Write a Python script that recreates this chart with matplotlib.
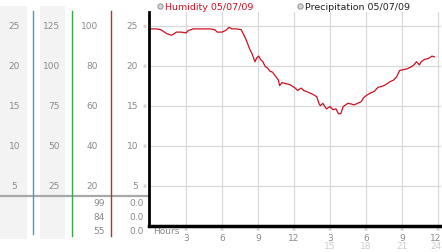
import matplotlib
matplotlib.use("Agg")
import matplotlib.pyplot as plt

# humidity trace (hour, value)
hours = [0.0, 0.5, 0.9, 1.1, 1.4, 1.8, 2.2, 2.6, 3.0, 3.2, 3.6, 4.0, 4.5, 5.0, 5.4,
         5.6, 6.0, 6.3, 6.6, 6.8, 7.2, 7.6, 7.9, 8.1, 8.3, 8.5, 8.75, 8.9, 9.05, 9.2,
         9.4, 9.6, 9.8, 10.0, 10.2, 10.4, 10.55, 10.7, 10.8, 11.0, 11.2, 11.5, 11.7,
         11.9, 12.1, 12.3, 12.6, 12.8, 13.0, 13.3, 13.6, 13.9, 14.1, 14.2, 14.4, 14.7,
         15.0, 15.25, 15.5, 15.7, 15.9, 16.1, 16.3, 16.5, 16.8, 17.0, 17.3, 17.6, 17.8,
         18.05, 18.4, 18.7, 19.0, 19.3, 19.6, 20.0, 20.3, 20.55, 20.8, 21.1, 21.4, 21.7,
         22.0, 22.2, 22.45, 22.6, 22.9, 23.2, 23.5, 23.7]
humidity = [24.6, 24.6, 24.5, 24.3, 24.0, 23.8, 24.2, 24.2, 24.1, 24.4, 24.6, 24.6, 24.6,
            24.6, 24.5, 24.2, 24.2, 24.4, 24.8, 24.6, 24.6, 24.5, 23.6, 22.9, 22.1, 21.5,
            20.5, 21.0, 21.2, 20.8, 20.5, 19.9, 19.7, 19.3, 19.2, 18.8, 18.5, 18.2, 17.5,
            17.9, 17.8, 17.7, 17.6, 17.4, 17.2, 16.9, 17.2, 16.9, 16.8, 16.6, 16.4, 16.1,
            15.2, 15.0, 15.3, 14.6, 14.9, 14.5, 14.6, 14.0, 14.0, 14.9, 15.1, 15.3, 15.2,
            15.1, 15.3, 15.5, 16.0, 16.3, 16.6, 16.8, 17.3, 17.4, 17.6, 18.0, 18.2, 18.6,
            19.4, 19.5, 19.6, 19.8, 20.1, 20.5, 20.1, 20.5, 20.8, 20.9, 21.2, 21.1]

yticks = [5, 10, 15, 20, 25]
col1_labels = ["5", "10", "15", "20", "25"]
col2_labels = ["25", "50", "75", "100", "125"]
col3_labels = ["20", "40", "60", "80", "100"]
col4_labels = ["5", "10", "15", "20", "25"]
xticks = [3, 6, 9, 12, 15, 18, 21, 24]
xlabels_top = ["3", "6", "9", "12", "3", "6", "9", "12"]
xlabels_low = ["15", "18", "21", "24"]
extra_col3 = ["99", "84", "55"]
extra_col4 = ["0.0", "0.0", "0.0"]
legend_names = ["Humidity 05/07/09", "Precipitation 05/07/09"]

W, H = 442, 253
fig = plt.figure(figsize=(W / 100, H / 100), dpi=100)

# background axes in pixel coordinates (y down)
bg = fig.add_axes([0, 0, 1, 1])
bg.set_xlim(0, W)
bg.set_ylim(H, 0)
bg.axis("off")

fs = 6.5
grey = "#8a8a8a"

# left side panel strips and colored lines
bg.add_patch(plt.Rectangle((0, 7), 27, 233, color="#f3f3f3", lw=0))
bg.add_patch(plt.Rectangle((40, 7), 25, 233, color="#f3f3f3", lw=0))
bg.plot([0, 149], [197, 197], color="#a8a8a8", lw=1.6)
bg.plot([33, 33], [12, 235], color="#3fa0c8", lw=1)
bg.plot([72, 72], [12, 237], color="#3aa845", lw=1)
bg.plot([111, 111], [12, 237], color="#b83030", lw=1)

# main plot axes
y0, ppu = 226.7, 8.0   # pixel of value 0, pixels per unit
x0, pph = 150.0, 12.0  # pixel of hour 0, pixels per hour
left, right, top = 149, 441, 13
ax = fig.add_axes([left / W, (H - y0) / H, (right - left) / W, (y0 - top) / H])
ax.set_xlim((left - x0) / pph, (right - x0) / pph)
ax.set_ylim(0, (y0 - top) / ppu)
ax.patch.set_alpha(0)
for s in ["top", "right"]:
    ax.spines[s].set_visible(False)
ax.spines["left"].set_linewidth(2)
ax.spines["bottom"].set_linewidth(2.5)
ax.set_xticks(xticks)
ax.set_yticks(yticks)
ax.tick_params(length=0, labelbottom=False, labelleft=False)
ax.grid(True, color="#d8d8d8", lw=0.9)
ax.set_axisbelow(True)
ax.plot(hours, humidity, color="#cc1020", lw=0.9)

def ypix(v):
    return y0 - v * ppu

def xpix(h):
    return x0 + h * pph

# left column labels
for v, a, b, c, d in zip(yticks, col1_labels, col2_labels, col3_labels, col4_labels):
    yy = ypix(v)
    bg.text(14.5, yy, a, ha="center", va="center", fontsize=fs, color=grey)
    bg.text(60, yy, b, ha="right", va="center", fontsize=fs, color=grey)
    bg.text(98, yy, c, ha="right", va="center", fontsize=fs, color=grey)
    bg.text(138, yy, d, ha="right", va="center", fontsize=fs, color=grey)
    bg.text(145, yy, "※", ha="center", va="center", fontsize=3.5, color="#aaaaaa")

for yy, a, b in zip([204, 218, 232], extra_col3, extra_col4):
    bg.text(105, yy, a, ha="right", va="center", fontsize=fs, color=grey)
    bg.text(144, yy, b, ha="right", va="center", fontsize=fs, color=grey)

# x labels (the last column is pushed in so it stays inside the picture)
bg.text(153, 231.5, "Hours", ha="left", va="center", fontsize=fs, color=grey)
for h, t in zip(xticks, xlabels_top):
    xx = min(xpix(h), 436)
    bg.text(xpix(h), 230, "※", ha="center", va="center", fontsize=3.5, color="#aaaaaa")
    bg.text(xx, 238.5, t, ha="center", va="center", fontsize=fs, color=grey)
for h, t in zip(xticks[4:], xlabels_low):
    bg.text(min(xpix(h), 436), 247, t, ha="center", va="center", fontsize=fs, color="#cccccc")

# legend
bg.scatter([160, 300], [7, 7], s=14, color="#d8d8d8", edgecolor="#9a9a9a", lw=0.8, zorder=3)
bg.text(165, 7, legend_names[0], ha="left", va="center", fontsize=6.8, color="#cc1020")
bg.text(305, 7, legend_names[1], ha="left", va="center", fontsize=6.8, color="#222222")

fig.savefig("out.png", dpi=100)
